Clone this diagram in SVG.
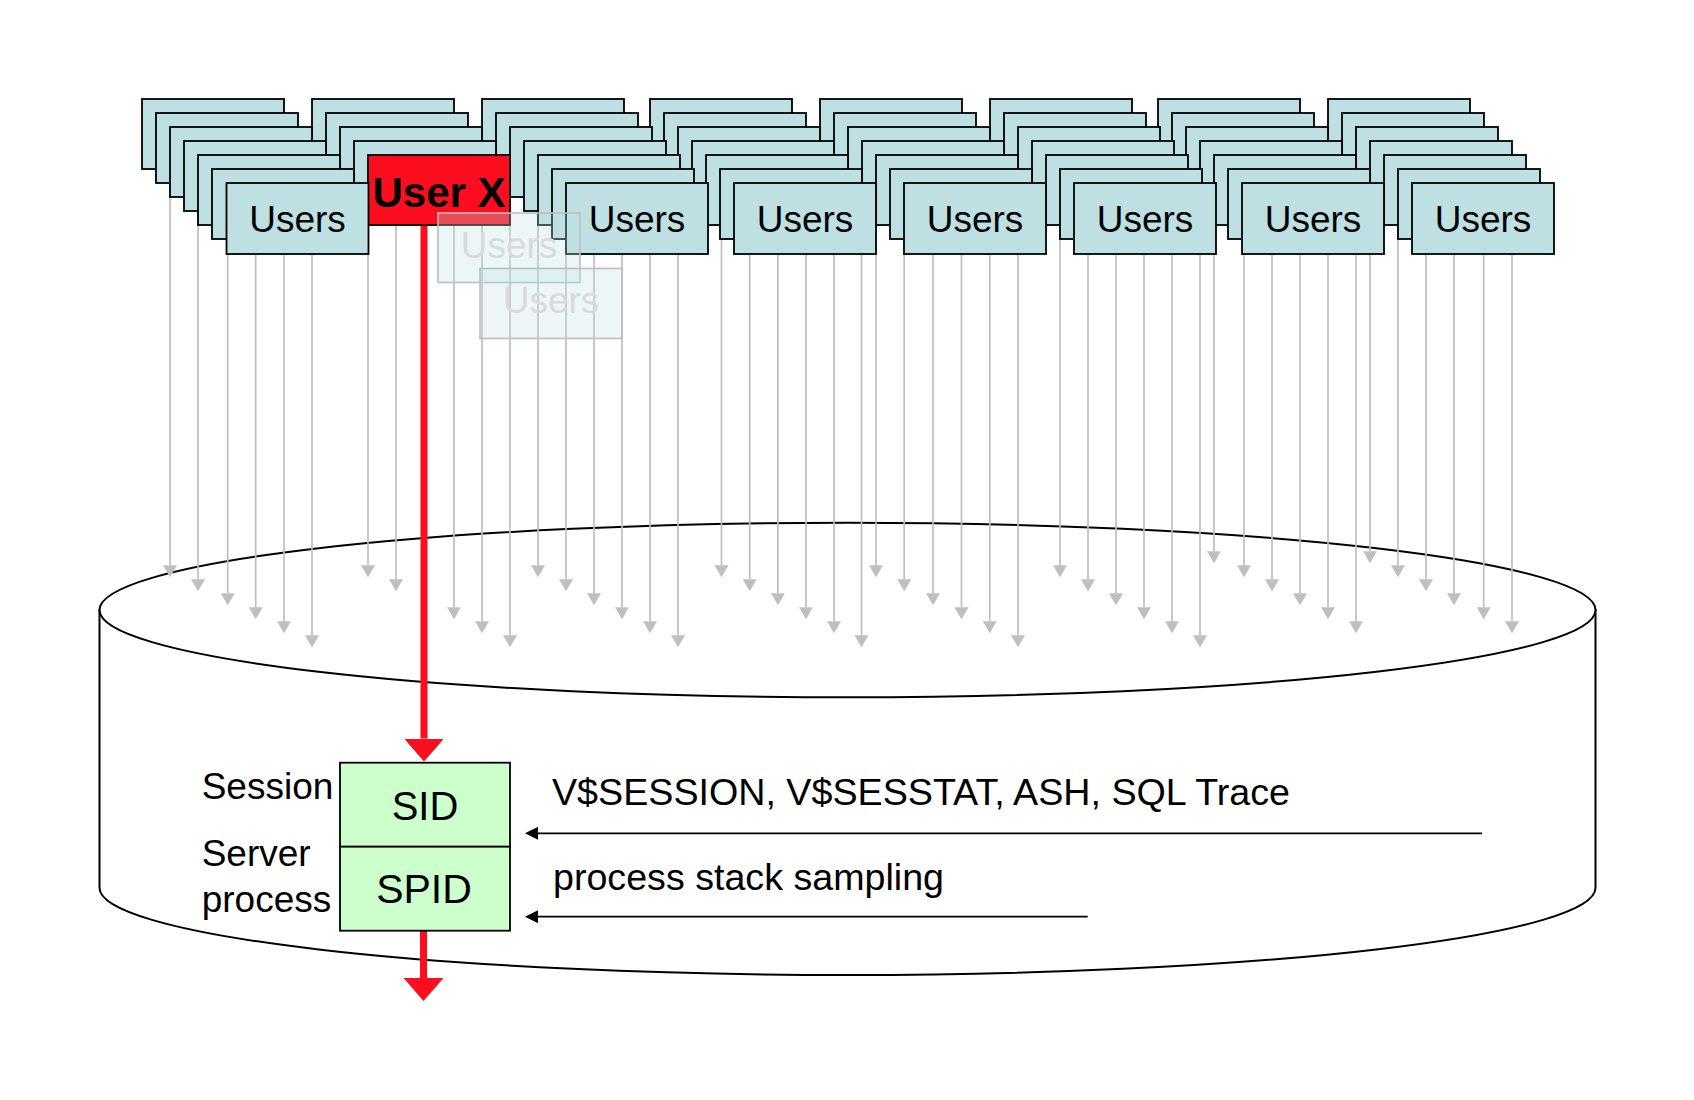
<svg xmlns="http://www.w3.org/2000/svg" width="1694" height="1100" viewBox="0 0 1694 1100">
<style>
.bx{fill:#BEE0E3;stroke:#000;stroke-width:1.8}
.ux{fill:#FC0E1E;stroke:#000;stroke-width:1.8}
.fd{fill:#BFE0E4;fill-opacity:0.3;stroke:#BDBDBD;stroke-width:1.6}
.gr{fill:#CCFFCC;stroke:#000;stroke-width:1.8}
.t{font-family:"Liberation Sans",Arial,sans-serif;font-size:37px;fill:#000}
.c{text-anchor:middle}
.ft{font-family:"Liberation Sans",Arial,sans-serif;font-size:37px;fill:#DADADA;text-anchor:middle}
.ga line{stroke:#BFBFBF;stroke-width:1.7;marker-end:url(#mg)}
.ra{stroke:#FC0E1E;stroke-width:7;fill:none;marker-end:url(#mr)}
.ba{stroke:#000;stroke-width:1.7;fill:none;marker-end:url(#mb)}
.cyl{fill:#fff;stroke:#000;stroke-width:2}
</style>
<defs>
<marker id="mg" markerUnits="userSpaceOnUse" markerWidth="12" markerHeight="14" viewBox="0 0 12 14" refX="0" refY="7" orient="auto"><path d="M0,0 L12,7 L0,14 Z" fill="#BFBFBF"/></marker>
<marker id="mr" markerUnits="userSpaceOnUse" markerWidth="23" markerHeight="40" viewBox="0 0 23 40" refX="0" refY="20" orient="auto"><path d="M0,0 L23,20 L0,40 Z" fill="#FC0E1E"/></marker>
<marker id="mb" markerUnits="userSpaceOnUse" markerWidth="13" markerHeight="13" viewBox="0 0 13 13" refX="0" refY="6.5" orient="auto"><path d="M0,0 L13,6.5 L0,13 Z" fill="#000"/></marker>
</defs>
<rect width="1694" height="1100" fill="#fff"/>
<g id="database">
<path class="cyl" d="M99.5,610 L99.5,887.7 A748,87.3 0 0 0 1595.5,887.7 L1595.5,610 Z"/>
<ellipse class="cyl" cx="847.5" cy="610" rx="748" ry="87.3"/>
</g>
<g id="connectors">
<g class="ga">
<line x1="170" y1="160" x2="170" y2="565.3"/><line x1="198" y1="160" x2="198" y2="579.3"/><line x1="227.7" y1="160" x2="227.7" y2="593.3"/><line x1="255.7" y1="160" x2="255.7" y2="607.3"/><line x1="284" y1="160" x2="284" y2="621.3"/><line x1="312" y1="160" x2="312" y2="635.3"/>
<line x1="368" y1="160" x2="368" y2="565.3"/><line x1="396" y1="160" x2="396" y2="579.3"/><line x1="454" y1="160" x2="454" y2="607.3"/><line x1="482" y1="160" x2="482" y2="621.3"/><line x1="510" y1="160" x2="510" y2="635.3"/>
<line x1="538" y1="160" x2="538" y2="565.3"/><line x1="566" y1="160" x2="566" y2="579.3"/><line x1="594" y1="160" x2="594" y2="593.3"/><line x1="622" y1="160" x2="622" y2="607.3"/><line x1="650" y1="160" x2="650" y2="621.3"/><line x1="678" y1="160" x2="678" y2="635.3"/>
<line x1="721.5" y1="160" x2="721.5" y2="565.3"/><line x1="749.7" y1="160" x2="749.7" y2="579.3"/><line x1="777.9" y1="160" x2="777.9" y2="593.3"/><line x1="806" y1="160" x2="806" y2="607.3"/><line x1="834" y1="160" x2="834" y2="621.3"/><line x1="861.5" y1="160" x2="861.5" y2="635.3"/>
<line x1="876" y1="160" x2="876" y2="565.3"/><line x1="904.2" y1="160" x2="904.2" y2="579.3"/><line x1="933" y1="160" x2="933" y2="593.3"/><line x1="961.5" y1="160" x2="961.5" y2="607.3"/><line x1="989.8" y1="160" x2="989.8" y2="621.3"/><line x1="1018" y1="160" x2="1018" y2="635.3"/>
<line x1="1060" y1="160" x2="1060" y2="565.3"/><line x1="1088" y1="160" x2="1088" y2="579.3"/><line x1="1116" y1="160" x2="1116" y2="593.3"/><line x1="1144" y1="160" x2="1144" y2="607.3"/><line x1="1172" y1="160" x2="1172" y2="621.3"/><line x1="1200" y1="160" x2="1200" y2="635.3"/>
<line x1="1214" y1="160" x2="1214" y2="551.3"/><line x1="1244" y1="160" x2="1244" y2="565.3"/><line x1="1272" y1="160" x2="1272" y2="579.3"/><line x1="1300" y1="160" x2="1300" y2="593.3"/><line x1="1328" y1="160" x2="1328" y2="607.3"/><line x1="1356" y1="160" x2="1356" y2="621.3"/>
<line x1="1370" y1="160" x2="1370" y2="551.3"/><line x1="1398" y1="160" x2="1398" y2="565.3"/><line x1="1426" y1="160" x2="1426" y2="579.3"/><line x1="1454" y1="160" x2="1454" y2="593.3"/><line x1="1483.7" y1="160" x2="1483.7" y2="607.3"/><line x1="1512" y1="160" x2="1512" y2="621.3"/>
</g>
<path class="ra" d="M424,225V738.5"/>
<path class="ra" d="M423.5,930.7V978"/>
<path class="ba" d="M1482,833.3H538"/>
<path class="ba" d="M1087.7,916.7H538"/>
</g>
<g id="users-row-0">
<rect class="bx" x="142" y="99" width="142" height="70"/><rect class="bx" x="312" y="99" width="142" height="70"/><rect class="bx" x="482" y="99" width="142" height="70"/><rect class="bx" x="650" y="99" width="142" height="70"/><rect class="bx" x="820" y="99" width="142" height="70"/><rect class="bx" x="990" y="99" width="142" height="70"/><rect class="bx" x="1158" y="99" width="142" height="70"/><rect class="bx" x="1328" y="99" width="142" height="70"/>
</g>
<g id="users-row-1">
<rect class="bx" x="156" y="113" width="142" height="70"/><rect class="bx" x="326" y="113" width="142" height="70"/><rect class="bx" x="496" y="113" width="142" height="70"/><rect class="bx" x="664" y="113" width="142" height="70"/><rect class="bx" x="834" y="113" width="142" height="70"/><rect class="bx" x="1004" y="113" width="142" height="70"/><rect class="bx" x="1172" y="113" width="142" height="70"/><rect class="bx" x="1342" y="113" width="142" height="70"/>
</g>
<g id="users-row-2">
<rect class="bx" x="170" y="127" width="142" height="70"/><rect class="bx" x="340" y="127" width="142" height="70"/><rect class="bx" x="510" y="127" width="142" height="70"/><rect class="bx" x="678" y="127" width="142" height="70"/><rect class="bx" x="848" y="127" width="142" height="70"/><rect class="bx" x="1018" y="127" width="142" height="70"/><rect class="bx" x="1186" y="127" width="142" height="70"/><rect class="bx" x="1356" y="127" width="142" height="70"/>
</g>
<g id="users-row-3">
<rect class="bx" x="184" y="141" width="142" height="70"/><rect class="bx" x="354" y="141" width="142" height="70"/><rect class="bx" x="524" y="141" width="142" height="70"/><rect class="bx" x="692" y="141" width="142" height="70"/><rect class="bx" x="862" y="141" width="142" height="70"/><rect class="bx" x="1032" y="141" width="142" height="70"/><rect class="bx" x="1200" y="141" width="142" height="70"/><rect class="bx" x="1370" y="141" width="142" height="70"/>
</g>
<g id="users-row-4">
<rect class="bx" x="198" y="155" width="142" height="70"/><rect class="bx" x="538" y="155" width="142" height="70"/><rect class="bx" x="706" y="155" width="142" height="70"/><rect class="bx" x="876" y="155" width="142" height="70"/><rect class="bx" x="1046" y="155" width="142" height="70"/><rect class="bx" x="1214" y="155" width="142" height="70"/><rect class="bx" x="1384" y="155" width="142" height="70"/>
</g>
<g id="user-x">
<rect class="ux" x="368" y="155" width="142" height="70"/>
<text class="t c" x="439" y="206.7" style="font-size:42px;font-weight:bold">User X</text>
</g>
<g id="users-row-5">
<rect class="bx" x="212" y="169" width="142" height="70"/><rect class="bx" x="552" y="169" width="142" height="70"/><rect class="bx" x="720" y="169" width="142" height="70"/><rect class="bx" x="890" y="169" width="142" height="70"/><rect class="bx" x="1060" y="169" width="142" height="70"/><rect class="bx" x="1228" y="169" width="142" height="70"/><rect class="bx" x="1398" y="169" width="142" height="70"/>
</g>
<g id="users-1"><rect class="bx" x="226.5" y="183" width="142" height="71"/><text class="t c" x="297.5" y="232">Users</text></g>
<g id="users-3"><rect class="bx" x="566" y="183" width="142" height="71"/><text class="t c" x="637" y="232">Users</text></g>
<g id="users-4"><rect class="bx" x="734" y="183" width="142" height="71"/><text class="t c" x="805" y="232">Users</text></g>
<g id="users-5"><rect class="bx" x="904" y="183" width="142" height="71"/><text class="t c" x="975" y="232">Users</text></g>
<g id="users-6"><rect class="bx" x="1074" y="183" width="142" height="71"/><text class="t c" x="1145" y="232">Users</text></g>
<g id="users-7"><rect class="bx" x="1242" y="183" width="142" height="71"/><text class="t c" x="1313" y="232">Users</text></g>
<g id="users-8"><rect class="bx" x="1412" y="183" width="142" height="71"/><text class="t c" x="1483" y="232">Users</text></g>
<g id="faded-user-1">
<rect class="fd" x="438" y="213" width="142" height="69.5"/>
<text class="ft" x="509" y="258">Users</text>
</g>
<g id="faded-user-2">
<rect class="fd" x="480" y="268.5" width="142" height="70"/>
<text class="ft" x="551" y="313">Users</text>
</g>
<g id="session">
<rect class="gr" x="340" y="762.7" width="170" height="84"/>
<text class="t c" x="425" y="820" style="font-size:40px">SID</text>
<text class="t" x="201.7" y="799">Session</text>
</g>
<g id="server-process">
<rect class="gr" x="340" y="846.7" width="170" height="84"/>
<text class="t c" x="424" y="903.3" style="font-size:41px">SPID</text>
<text class="t" x="201.7" y="865.7">Server</text>
<text class="t" x="201.7" y="912.3">process</text>
</g>
<g id="labels">
<text class="t" x="552" y="805" textLength="738" lengthAdjust="spacingAndGlyphs">V$SESSION, V$SESSTAT, ASH, SQL Trace</text>
<text class="t" x="553" y="890" textLength="391" lengthAdjust="spacingAndGlyphs">process stack sampling</text>
</g>
</svg>
